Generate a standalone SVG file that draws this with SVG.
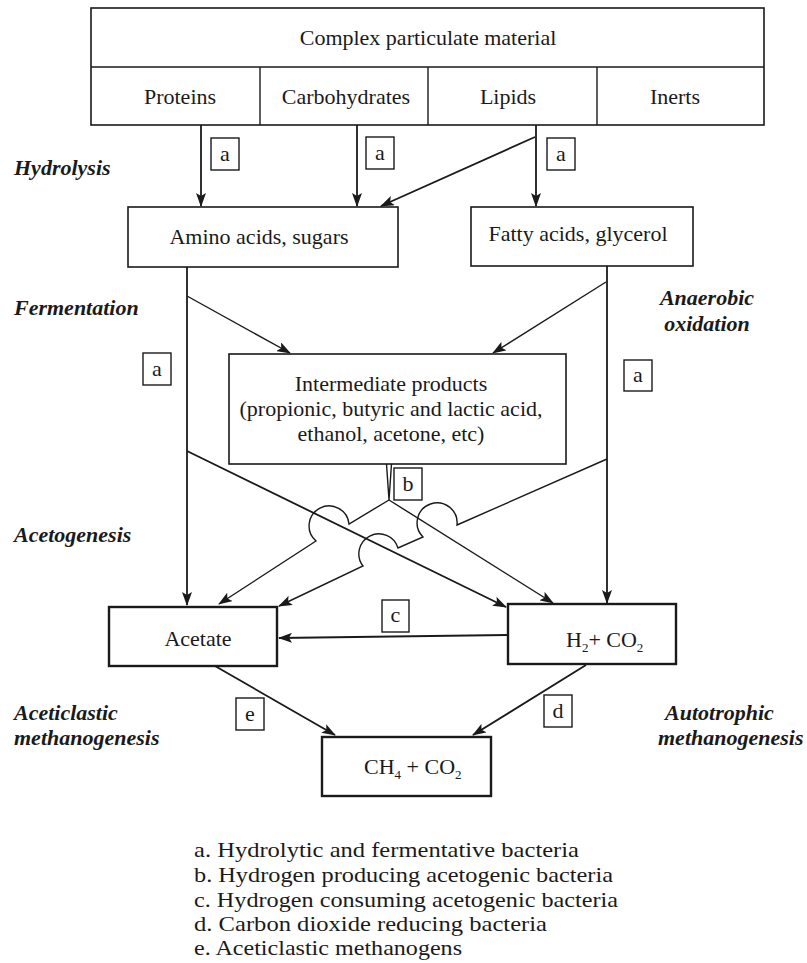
<svg xmlns="http://www.w3.org/2000/svg" width="807" height="963" viewBox="0 0 807 963">
<style>
.t{font-family:"Liberation Serif","Times New Roman",serif;font-size:22px;fill:#1a1a1a}
.c{text-anchor:middle}
.s{font-family:"Liberation Serif","Times New Roman",serif;font-size:22px;font-weight:bold;font-style:italic;fill:#1a1a1a}
.lg{font-family:"Liberation Serif","Times New Roman",serif;font-size:22px;fill:#1a1a1a}
.box{fill:#fff;stroke:#1a1a1a;stroke-width:1.6}
.bold{stroke-width:2.4}
.lb{fill:#fff;stroke:#1a1a1a;stroke-width:1.4}
.ln{fill:none;stroke:#1a1a1a;stroke-width:1.8}
.lt{fill:none;stroke:#1a1a1a;stroke-width:1.4}
</style>
<defs>
<marker id="ah" markerWidth="14" markerHeight="10" refX="13" refY="5" orient="auto" markerUnits="userSpaceOnUse">
<path d="M0,0 L14,5 L0,10 L3,5 z" fill="#1a1a1a"/>
</marker>
</defs>
<rect width="807" height="963" fill="#fff"/>

<g id="complex">
<rect class="box" x="91" y="8" width="673" height="117"/>
<line class="lt" x1="91" y1="67" x2="764" y2="67"/>
<line class="lt" x1="260" y1="67" x2="260" y2="125"/>
<line class="lt" x1="428" y1="67" x2="428" y2="125"/>
<line class="lt" x1="597" y1="67" x2="597" y2="125"/>
<text class="t c" x="428" y="45">Complex particulate material</text>
<text class="t c" x="180" y="104">Proteins</text>
<text class="t c" x="346" y="104">Carbohydrates</text>
<text class="t c" x="508" y="104">Lipids</text>
<text class="t c" x="675" y="104">Inerts</text>
</g>

<g id="amino">
<rect class="box" x="128" y="207" width="270" height="60"/>
<text class="t c" x="259" y="244">Amino acids, sugars</text>
</g>
<g id="fatty">
<rect class="box" x="471" y="207" width="222" height="59"/>
<text class="t c" x="578" y="241">Fatty acids, glycerol</text>
</g>
<g id="intermediate">
<rect class="box" x="229" y="354" width="337" height="110"/>
<text class="t c" x="391" y="391">Intermediate products</text>
<text class="t c" x="391" y="416">(propionic, butyric and lactic acid,</text>
<text class="t c" x="391" y="441">ethanol, acetone, etc)</text>
</g>
<g id="acetate">
<rect class="box bold" x="109" y="607" width="168" height="59"/>
<text class="t c" x="198" y="646">Acetate</text>
</g>
<g id="h2co2">
<rect class="box bold" x="508" y="604" width="168" height="60"/>
<text class="t" x="566" y="647">H<tspan font-size="13" dy="5">2</tspan><tspan dy="-5">+ CO</tspan><tspan font-size="13" dy="5">2</tspan></text>
</g>
<g id="ch4co2">
<rect class="box bold" x="322" y="737" width="169" height="59"/>
<text class="t" x="364" y="774">CH<tspan font-size="13" dy="5">4</tspan><tspan dy="-5"> + CO</tspan><tspan font-size="13" dy="5">2</tspan></text>
</g>

<g id="connectors">
<line class="ln" x1="201" y1="125" x2="201" y2="206" marker-end="url(#ah)"/>
<line class="ln" x1="357" y1="125" x2="357" y2="206" marker-end="url(#ah)"/>
<line class="ln" x1="536" y1="125" x2="536" y2="206" marker-end="url(#ah)"/>
<line class="ln" x1="535" y1="137" x2="381" y2="206" marker-end="url(#ah)"/>
<line class="ln" x1="187" y1="267" x2="187" y2="605" marker-end="url(#ah)"/>
<line class="lt" x1="187" y1="296" x2="290" y2="353" marker-end="url(#ah)"/>
<line class="ln" x1="607" y1="266" x2="607" y2="603" marker-end="url(#ah)"/>
<line class="lt" x1="606" y1="282" x2="493" y2="353" marker-end="url(#ah)"/>
<line class="ln" x1="187" y1="451" x2="506" y2="607" marker-end="url(#ah)"/>
<path class="lt" d="M607,459 L457,525 A20,20 0 1 0 423,537 L398,548 A20,20 0 1 0 363,566 L279,606" marker-end="url(#ah)"/>
<path class="lt" d="M386.5,464 L389,500 M391.5,464 L389,500"/>
<path class="lt" d="M389,500 L349,524 A20,20 0 1 0 316,541 L219,604" marker-end="url(#ah)"/>
<line class="lt" x1="389" y1="500" x2="553" y2="603" marker-end="url(#ah)"/>
<line class="ln" x1="507" y1="635" x2="279" y2="638" marker-end="url(#ah)"/>
<line class="ln" x1="215" y1="666" x2="335" y2="735" marker-end="url(#ah)"/>
<line class="ln" x1="586" y1="665" x2="473" y2="735" marker-end="url(#ah)"/>
</g>

<g id="labels">
<rect class="lb" x="211" y="138" width="28" height="32"/><text class="t c" x="225" y="161">a</text>
<rect class="lb" x="366" y="137" width="28" height="32"/><text class="t c" x="380" y="160">a</text>
<rect class="lb" x="547" y="138" width="28" height="32"/><text class="t c" x="561" y="161">a</text>
<rect class="lb" x="143" y="353" width="28" height="32"/><text class="t c" x="157" y="376">a</text>
<rect class="lb" x="624" y="360" width="28" height="31"/><text class="t c" x="638" y="382">a</text>
<rect class="lb" x="394" y="468" width="28" height="32"/><text class="t c" x="408" y="491">b</text>
<rect class="lb" x="382" y="600" width="27" height="32"/><text class="t c" x="395.5" y="622">c</text>
<rect class="lb" x="544" y="695" width="28" height="32"/><text class="t c" x="558" y="718">d</text>
<rect class="lb" x="236" y="698" width="28" height="32"/><text class="t c" x="250" y="721">e</text>
</g>

<g id="stages">
<text class="s" x="14" y="175">Hydrolysis</text>
<text class="s" x="14" y="315">Fermentation</text>
<text class="s" x="707" y="305" text-anchor="middle">Anaerobic</text>
<text class="s" x="707" y="331" text-anchor="middle">oxidation</text>
<text class="s" x="14" y="542">Acetogenesis</text>
<text class="s" x="14" y="720">Aceticlastic</text>
<text class="s" x="14" y="745">methanogenesis</text>
<text class="s" x="665" y="720">Autotrophic</text>
<text class="s" x="658" y="745">methanogenesis</text>
</g>

<g id="legend">
<text class="lg" x="194" y="857" textLength="385" lengthAdjust="spacingAndGlyphs">a. Hydrolytic and fermentative bacteria</text>
<text class="lg" x="194" y="882" textLength="419" lengthAdjust="spacingAndGlyphs">b. Hydrogen producing acetogenic bacteria</text>
<text class="lg" x="194" y="907" textLength="424" lengthAdjust="spacingAndGlyphs">c. Hydrogen consuming acetogenic bacteria</text>
<text class="lg" x="194" y="931" textLength="353" lengthAdjust="spacingAndGlyphs">d. Carbon dioxide reducing bacteria</text>
<text class="lg" x="194" y="955" textLength="268" lengthAdjust="spacingAndGlyphs">e. Aceticlastic methanogens</text>
</g>
</svg>
